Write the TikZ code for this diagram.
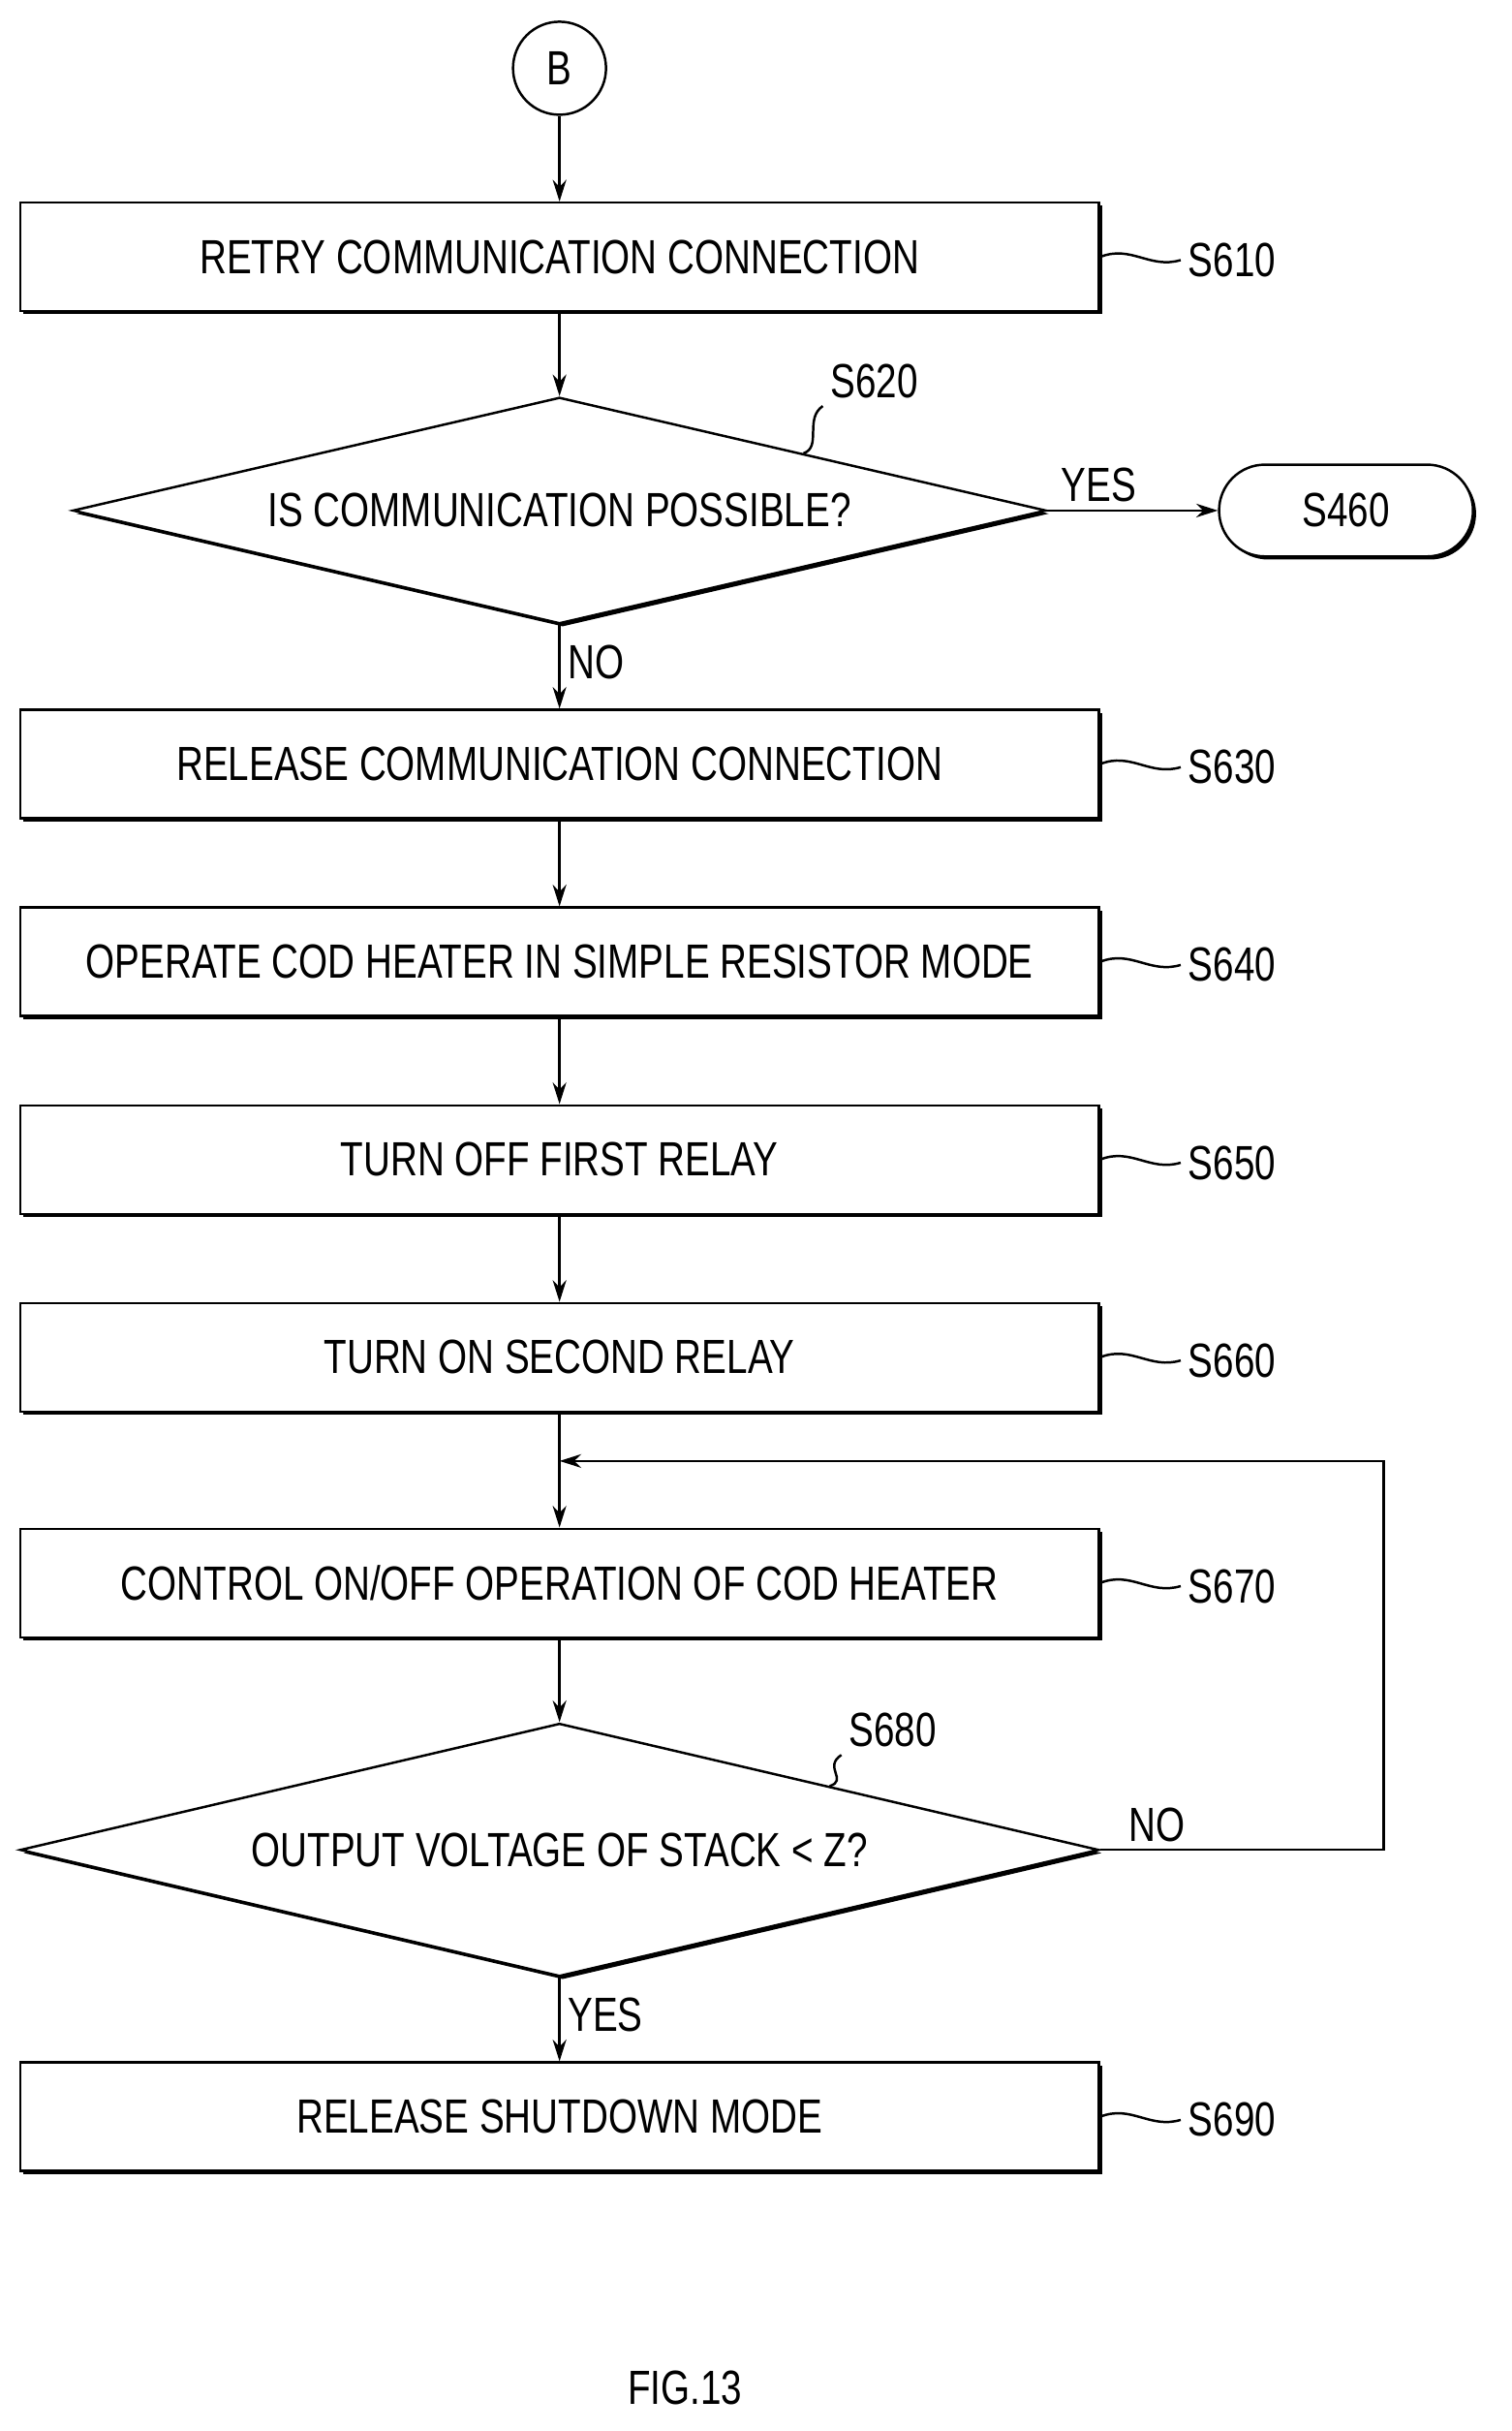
\documentclass[tikz,border=0pt]{standalone}
\usepackage{fontspec}
\setsansfont{Liberation Sans}[FakeStretch=0.78]
\usetikzlibrary{positioning,calc,arrows.meta,shapes.geometric,shapes.misc,shadows}
\tikzset{
  shade/.style={drop shadow={opacity=1,fill=black,shadow xshift=0.05cm,shadow yshift=-0.05cm}},
  box/.style={draw,line width=1.1pt,fill=white,shade,minimum width=17.4cm,minimum height=1.75cm,font=\sffamily\fontsize{22}{24}\selectfont},
  decision/.style={diamond,draw,line width=1.1pt,fill=white,shade,inner sep=0pt,aspect=4.3,font=\sffamily\fontsize{22}{24}\selectfont},
  tag/.style={font=\sffamily\fontsize{22}{24}\selectfont},
  line/.style={line width=1.1pt},
  arrow/.style={line,-{Stealth[length=0.35cm,width=0.22cm]}}
}
\begin{document}
\begin{tikzpicture}[node distance=1.4cm]
\useasboundingbox (0,0) rectangle (24.375,-39.2);
% start connector
\node[circle,draw,line width=1.1pt,minimum size=1.5cm,tag] (b) at (9.025,-1.1) {B};
\node[box,below=1.38cm of b] (s610) {RETRY COMMUNICATION CONNECTION};
\node[decision,minimum width=15.7cm,minimum height=3.65cm,below=1.35cm of s610] (d620) {IS COMMUNICATION POSSIBLE?};
\node[rounded rectangle,draw,line width=1.1pt,fill=white,shade,minimum width=4.33cm,minimum height=1.48cm,tag,right=2.75cm of d620] (s460) {S460};
\node[box,below=1.35cm of d620] (s630) {RELEASE COMMUNICATION CONNECTION};
\node[box,below=of s630] (s640) {OPERATE COD HEATER IN SIMPLE RESISTOR MODE};
\node[box,below=of s640] (s650) {TURN OFF FIRST RELAY};
\node[box,below=of s650] (s660) {TURN ON SECOND RELAY};
\node[box,below=1.85cm of s660] (s670) {CONTROL ON/OFF OPERATION OF COD HEATER};
\node[decision,minimum width=17.4cm,minimum height=4.08cm,below=1.35cm of s670] (d680) {OUTPUT VOLTAGE OF STACK < Z?};
\node[box,below=1.35cm of d680] (s690) {RELEASE SHUTDOWN MODE};
% step labels
\foreach \s in {610,630,640,650,660,670,690}{
  \node[tag,anchor=west] (l\s) at ($(s\s.east)+(1.3,-0.05)$) {S\s};
  \draw[line] (s\s.east) .. controls +(0.5,0.2) and +(-0.5,-0.15) .. (l\s.west);
}
\node[tag] (l620) at (14.1,-6.15) {S620};
\draw[line] ($(d620.north)!0.5!(d620.east)$) .. controls +(0.3,0.1) and +(-0.3,-0.2) .. (l620.south west);
\node[tag] (l680) at (14.4,-27.9) {S680};
\draw[line] ($(d680.north)!0.5!(d680.east)$) .. controls +(0.3,0.1) and +(-0.3,-0.2) .. (l680.south west);
% connectors
\draw[arrow] (b) -- (s610);
\draw[arrow] (s610) -- (d620);
\draw[arrow] (d620) -- node[tag,right,pos=0.45] {NO} (s630);
\draw[arrow] (d620) -- node[tag,above,pos=0.3] {YES} (s460);
\draw[arrow] (s630) -- (s640);
\draw[arrow] (s640) -- (s650);
\draw[arrow] (s650) -- (s660);
\draw[arrow] (s660) -- (s670);
\coordinate (join) at ($(s660.south)!0.42!(s670.north)$);
\draw[arrow] (s670) -- (d680);
\draw[arrow] (d680) -- node[tag,right,pos=0.45] {YES} (s690);
\draw[arrow] (d680.east) -- node[tag,above,pos=0.2] {NO} ++(4.575,0) |- (join);
\node[tag] (fig) at (11.05,-38.5) {FIG.13};
\end{tikzpicture}
\end{document}
